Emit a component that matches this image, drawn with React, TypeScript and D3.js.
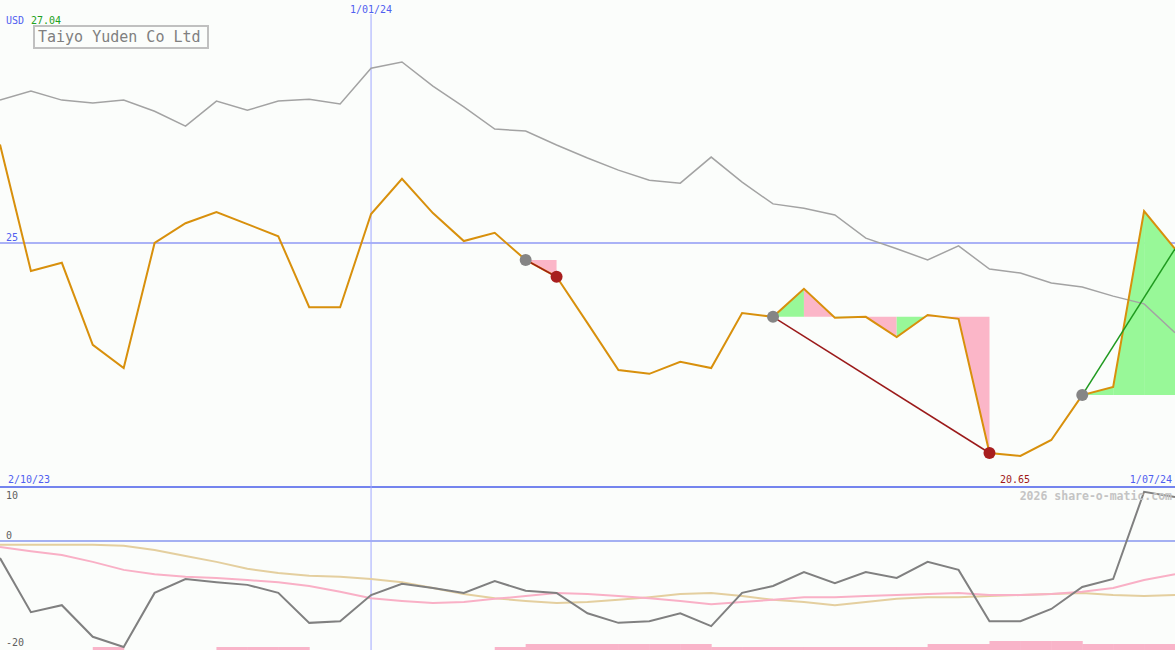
import { useEffect, useRef } from 'react'
import * as d3 from 'd3'

// weekly closes, index 0..38
const price = [
  27.04, 24.42, 24.59, 22.89, 22.41, 25.0, 25.41, 25.64, 25.39, 25.14,
  23.67, 23.67, 25.6, 26.33, 25.62, 25.04, 25.21, 24.65, 24.3, 23.34,
  22.37, 22.29, 22.54, 22.41, 23.55, 23.47, 24.05, 23.45, 23.47, 23.05,
  23.51, 23.43, 20.65, 20.59, 20.92, 21.85, 22.02, 25.66, 24.88,
]
const compare = [
  27.96, 28.15, 27.96, 27.9, 27.96, 27.73, 27.42, 27.94, 27.75, 27.94,
  27.98, 27.88, 28.62, 28.75, 28.25, 27.82, 27.36, 27.32, 27.03, 26.76,
  26.51, 26.3, 26.24, 26.78, 26.26, 25.81, 25.72, 25.58, 25.1, 24.88,
  24.65, 24.94, 24.46, 24.38, 24.17, 24.09, 23.9, 23.74, 23.14,
]
const oscMain = [
  -3.2, -13.3, -12.0, -17.9, -19.8, -9.7, -7.1, -7.7, -8.2, -9.7,
  -15.3, -15.0, -10.1, -8.0, -8.8, -9.7, -7.5, -9.3, -9.7, -13.5,
  -15.3, -15.0, -13.5, -15.9, -9.7, -8.4, -5.8, -7.9, -5.8, -6.9,
  -3.9, -5.4, -15.0, -15.0, -12.7, -8.6, -7.1, 9.2, 8.2,
]
const oscFast = [
  -1.1, -1.9, -2.6, -3.9, -5.4, -6.2, -6.7, -6.9, -7.3, -7.7,
  -8.4, -9.5, -10.7, -11.2, -11.6, -11.4, -10.8, -10.3, -9.7, -9.9,
  -10.3, -10.7, -11.2, -11.8, -11.4, -11.0, -10.5, -10.5, -10.3, -10.1,
  -9.9, -9.7, -10.1, -10.1, -9.9, -9.5, -8.8, -7.3, -6.2,
]
const oscSlow = [
  -0.7, -0.7, -0.7, -0.7, -0.9, -1.7, -2.8, -3.9, -5.2, -6.0,
  -6.5, -6.7, -7.1, -7.7, -8.8, -9.9, -10.7, -11.2, -11.6, -11.4,
  -11.0, -10.5, -9.9, -9.7, -10.3, -11.0, -11.4, -12.0, -11.4, -10.8,
  -10.5, -10.5, -10.3, -10.1, -9.9, -9.7, -10.1, -10.3, -10.1,
]
// bar per weekly segment i -> i+1
const bars = [
  0, 0, 0, 1, 0, 0, 0, 1, 1, 1,
  0, 0, 0, 0, 0, 0, 1, 2, 2, 2,
  2, 2, 2, 1, 1, 1, 1, 1, 1, 1,
  2, 2, 3, 3, 3, 2, 2, 2,
]
const patterns = [
  { start: 17, end: 18, kind: 'bear' },
  { start: 25, end: 32, kind: 'bear' },
  { start: 35, end: 38, kind: 'bull' },
]
const dateLabels = { start: '2/10/23', mid: '1/01/24', end: '1/07/24' }
const midIndex = 12
const lowLabel = '20.65'
const firstLabel = '27.04'
const priceTick = 25
const oscTicks = [10, 0, -20]
const title = 'Taiyo Yuden Co Ltd'

const W = 1175
const H = 650
const mono = '"DejaVu Sans Mono", "Liberation Mono", monospace'

export default function App() {
  const svgRef = useRef<SVGSVGElement>(null)

  useEffect(() => {
    const svg = d3.select(svgRef.current)
    svg.selectAll('*').remove()

    const x = d3.scaleLinear().domain([0, price.length - 1]).range([0, W])
    const y = d3.scaleLinear().domain([25, 20.65]).range([243, 453])
    const yo = d3.scaleLinear().domain([0, 10]).range([541, 487.5])
    const yb = d3.scaleLinear().domain([0, 3]).range([H, H - 9])

    svg.append('rect').attr('width', W).attr('height', H).style('fill', '#fbfdfb')

    // volume-ish bars at bottom
    bars.forEach((v, i) => {
      if (!v) return
      svg.append('rect')
        .attr('x', x(i)).attr('width', x(i + 1) - x(i) + 0.5)
        .attr('y', yb(v)).attr('height', yb(0) - yb(v))
        .style('fill', '#f9b4c9')
    })

    // reference lines
    svg.append('line').attr('x1', 0).attr('x2', W).attr('y1', y(priceTick)).attr('y2', y(priceTick))
      .style('stroke', '#8f98f4').style('stroke-width', '1.5')
    svg.append('line').attr('x1', 0).attr('x2', W).attr('y1', yo(0)).attr('y2', yo(0))
      .style('stroke', '#a4b0f2').style('stroke-width', '2')
    svg.append('line').attr('x1', 0).attr('x2', W).attr('y1', 487).attr('y2', 487)
      .style('stroke', '#7484ee').style('stroke-width', '2')
    svg.append('line').attr('x1', x(midIndex)).attr('x2', x(midIndex)).attr('y1', 14).attr('y2', H)
      .style('stroke', '#a0a8ff').style('stroke-width', '1')

    const lineOf = (ys: d3.ScaleLinear<number, number>) =>
      d3.line<number>().x((_, i) => x(i)).y(d => ys(d))

    // pattern fills
    const seg = d3.area<[number, number]>().x(d => x(d[0])).y1(d => y(d[1]))
    patterns.forEach(p => {
      const level = price[p.start]
      seg.y0(y(level))
      for (let i = p.start; i < p.end; i++) {
        const up = price[i + 1] >= level
        svg.append('path')
          .datum([[i, price[i]], [i + 1, price[i + 1]]] as [number, number][])
          .attr('d', seg)
          .style('fill', up ? '#98f898' : '#fbb6c8')
      }
    })

    // comparison line
    svg.append('path').datum(compare).attr('d', lineOf(y))
      .style('fill', 'none').style('stroke', '#a3a3a3').style('stroke-width', '1.5')

    // oscillator panel
    svg.append('path').datum(oscSlow).attr('d', lineOf(yo))
      .style('fill', 'none').style('stroke', '#e4cf9f').style('stroke-width', '2')
    svg.append('path').datum(oscFast).attr('d', lineOf(yo))
      .style('fill', 'none').style('stroke', '#f9b0c6').style('stroke-width', '2')
    svg.append('path').datum(oscMain).attr('d', lineOf(yo))
      .style('fill', 'none').style('stroke', '#808080').style('stroke-width', '2')

    // price line
    svg.append('path').datum(price).attr('d', lineOf(y))
      .style('fill', 'none').style('stroke', '#d8900c').style('stroke-width', '2')

    // pattern lines and markers
    patterns.forEach(p => {
      svg.append('line')
        .attr('x1', x(p.start)).attr('y1', y(price[p.start]))
        .attr('x2', x(p.end)).attr('y2', y(price[p.end]))
        .style('stroke', p.kind === 'bear' ? '#9b1a1a' : '#1f9a1f').style('stroke-width', '1.5')
    })
    patterns.forEach(p => {
      svg.append('circle').attr('cx', x(p.start)).attr('cy', y(price[p.start])).attr('r', 6)
        .style('fill', '#858585')
      if (p.kind === 'bear') {
        svg.append('circle').attr('cx', x(p.end)).attr('cy', y(price[p.end])).attr('r', 6)
          .style('fill', '#a81e1e')
      }
    })

    const txt = (tx: number, ty: number, s: string, color: string, size = 10, anchor = 'start') =>
      svg.append('text').attr('x', tx).attr('y', ty).attr('text-anchor', anchor)
        .style('font-family', mono).style('font-size', `${size}px`).style('fill', color).text(s)

    txt(6, 24, 'USD', '#5060f0')
    txt(31, 24, firstLabel, '#20a020')
    svg.append('rect').attr('x', 34).attr('y', 26).attr('width', 174).attr('height', 22)
      .style('fill', '#fbfdfb').style('stroke', '#c0c0c0').style('stroke-width', '2')
    txt(38, 42, title, '#808080', 15)

    txt(x(midIndex), 13, dateLabels.mid, '#5060f0', 10, 'middle')
    txt(6, 241, String(priceTick), '#5060f0')
    txt(8, 483, dateLabels.start, '#5060f0')
    txt(1172, 483, dateLabels.end, '#5060f0', 10, 'end')
    txt(1000, 483, lowLabel, '#a01818')
    txt(1172, 500, '2026 share-o-matic.com', '#c4c4c4', 11.5, 'end').style('font-weight', 'bold')

    const oscLabelY = [499, 539, 646]
    oscTicks.forEach((t, k) => txt(6, oscLabelY[k], String(t), '#606060'))
  }, [])

  return (
    <div style={{ position: 'fixed', left: 0, top: 0, width: W, height: H }}>
      <svg ref={svgRef} width={W} height={H} style={{ display: 'block' }} />
    </div>
  )
}
